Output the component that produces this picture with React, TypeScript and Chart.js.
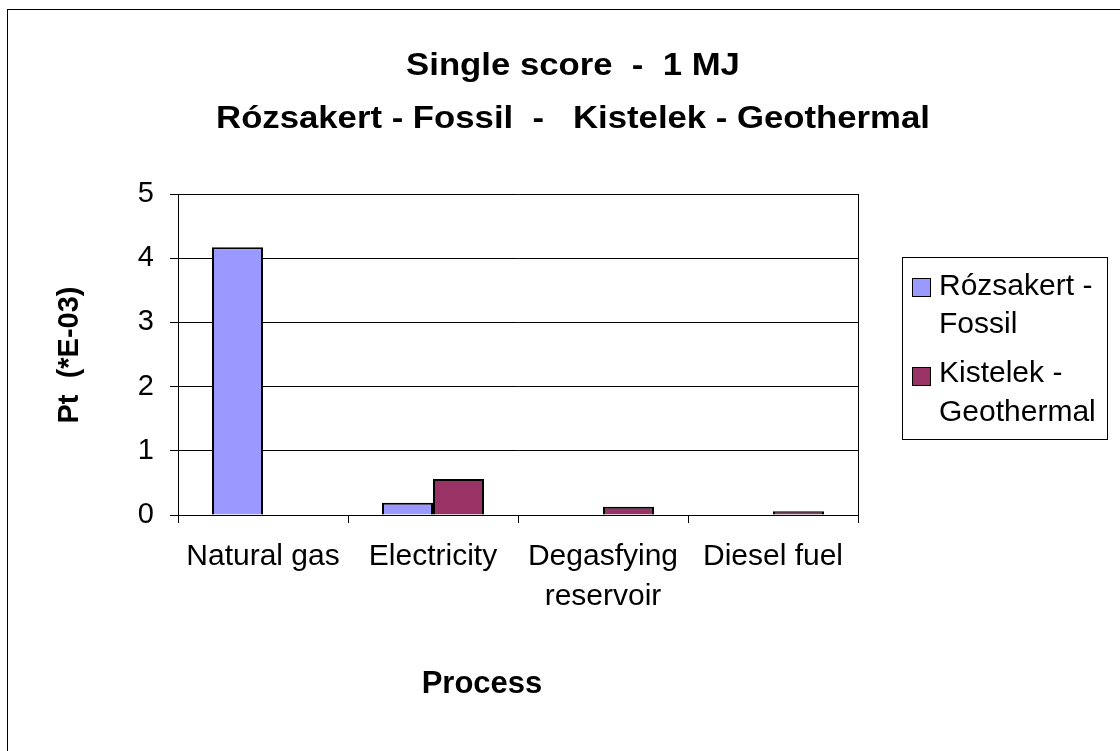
import React, { useEffect, useRef } from "react";
import { Chart, registerables } from "chart.js";

Chart.register(...registerables);

const categories: (string | string[])[] = ["Natural gas", "Electricity", ["Degasfying", "reservoir"], "Diesel fuel"];
const seriesNames: string[][] = [["Rózsakert -", "Fossil"], ["Kistelek -", "Geothermal"]];
const fossilValues: number[] = [4.17, 0.19, 0, 0];
const geothermalValues: number[] = [0, 0.56, 0.13, 0.06];
const seriesColors: string[] = ["#9999FF", "#993366"];
const titleLines: string[] = ["Single score  -  1 MJ", "Rózsakert - Fossil  -   Kistelek - Geothermal"];
const yTitle = "Pt  (*E-03)";
const xTitle = "Process";

const FONT = "'Liberation Sans', Arial, sans-serif";

const decorPlugin = {
  id: "decor",
  afterDraw(chart: any) {
    const ctx = chart.ctx as CanvasRenderingContext2D;
    const ca = chart.chartArea;
    ctx.save();
    // outer frame
    ctx.strokeStyle = "#000";
    ctx.lineWidth = 1;
    ctx.strokeRect(7.5, 9.5, 1300, 900);
    // right border of plot
    ctx.beginPath();
    ctx.moveTo(Math.round(ca.right) + 0.5, ca.top);
    ctx.lineTo(Math.round(ca.right) + 0.5, ca.bottom);
    ctx.stroke();
    // title (slightly wide face as in the original)
    ctx.fillStyle = "#000";
    ctx.textAlign = "center";
    ctx.textBaseline = "alphabetic";
    ctx.font = `bold 31px ${FONT}`;
    [75, 128].forEach((y, i) => {
      ctx.save();
      ctx.translate(573, y);
      ctx.scale(1.12, 1);
      ctx.fillText(titleLines[i], 0, 0);
      ctx.restore();
    });
    // x title
    ctx.font = `bold 31px ${FONT}`;
    ctx.fillText(xTitle, 482, 693);
    // y title
    ctx.save();
    ctx.translate(78, 355);
    ctx.rotate(-Math.PI / 2);
    ctx.font = `bold 29px ${FONT}`;
    ctx.textBaseline = "alphabetic";
    ctx.fillText(yTitle, 0, 0);
    ctx.restore();
    // legend
    ctx.strokeRect(902.5, 257.5, 205, 182);
    const swatchY = [278, 367];
    const baselines = [
      [295, 333],
      [382, 421],
    ];
    ctx.font = `30px ${FONT}`;
    ctx.textAlign = "left";
    seriesNames.forEach((lines, i) => {
      ctx.fillStyle = seriesColors[i];
      ctx.fillRect(912, swatchY[i], 19, 19);
      ctx.strokeStyle = "#000";
      ctx.lineWidth = 1;
      ctx.strokeRect(912.5, swatchY[i] + 0.5, 18, 18);
      ctx.fillStyle = "#000";
      lines.forEach((t, j) => ctx.fillText(t, 939, baselines[i][j]));
    });
    ctx.restore();
  },
};

export default function App() {
  const ref = useRef<HTMLCanvasElement>(null);
  useEffect(() => {
    if (!ref.current) return;
    const chart = new Chart(ref.current, {
      type: "bar",
      data: {
        labels: categories,
        datasets: [
          {
            label: seriesNames[0].join(" "),
            data: fossilValues,
            backgroundColor: seriesColors[0],
            borderColor: "#000",
            borderWidth: 2,
            categoryPercentage: 0.6,
            barPercentage: 1,
          },
          {
            label: seriesNames[1].join(" "),
            data: geothermalValues,
            backgroundColor: seriesColors[1],
            borderColor: "#000",
            borderWidth: 2,
            categoryPercentage: 0.6,
            barPercentage: 1,
          },
        ],
      },
      options: {
        responsive: false,
        animation: false,
        layout: { padding: { left: 0, right: 262, top: 194, bottom: 0 } },
        plugins: {
          legend: { display: false },
          title: { display: false },
          tooltip: { enabled: false },
        },
        scales: {
          x: {
            afterFit: (s: any) => {
              s.height = 236;
            },
            grid: {
              offset: true,
              drawOnChartArea: false,
              drawTicks: true,
              tickLength: 8,
              color: "#000",
            },
            border: { display: true, color: "#000", width: 1 },
            ticks: {
              color: "#000",
              font: { family: FONT, size: 30, lineHeight: 1.33 },
              padding: 14,
              maxRotation: 0,
              autoSkip: false,
            },
          },
          y: {
            min: 0,
            max: 5,
            afterFit: (s: any) => {
              s.width = 178;
            },
            grid: {
              drawTicks: true,
              tickLength: 8,
              color: "#000",
              lineWidth: 1,
            },
            border: { display: true, color: "#000", width: 1 },
            ticks: {
              stepSize: 1,
              color: "#000",
              font: { family: FONT, size: 29 },
              padding: 16,
            },
          },
        },
      },
      plugins: [decorPlugin],
    });
    return () => chart.destroy();
  }, []);
  return (
    <div style={{ position: "absolute", left: 0, top: 0, width: 1120, height: 751, background: "#fff" }}>
      <canvas ref={ref} width={1120} height={751} style={{ width: 1120, height: 751, display: "block" }} />
    </div>
  );
}
